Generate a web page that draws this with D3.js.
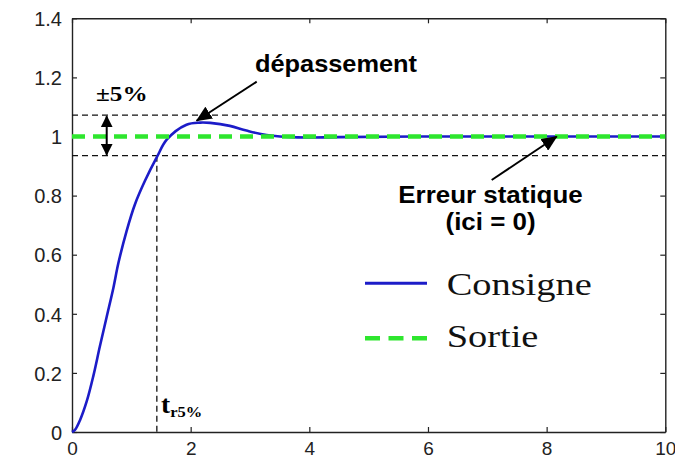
<!DOCTYPE html>
<html><head><meta charset="utf-8">
<script src="https://cdn.jsdelivr.net/npm/d3@7"></script>
<style>html,body{margin:0;padding:0;background:#fff;} svg{display:block;}</style>
</head><body>
<svg id="c" width="675" height="459"></svg>
<script>
// ---- data ----
const tConsigne = [0, 0.05, 0.135, 0.25, 0.36, 0.47, 0.585, 0.70, 0.78, 0.92, 1.06, 1.23, 1.43, 1.6, 1.93, 2.16, 2.33, 2.66, 2.94, 3.28, 3.8, 4.5, 6, 8, 10];
const consigne  = [0, 0.007, 0.04, 0.105, 0.19, 0.29, 0.39, 0.49, 0.57, 0.68, 0.77, 0.85, 0.93, 0.99, 1.04, 1.047, 1.046, 1.036, 1.02, 1.005, 0.997, 0.998, 1.0, 1.0, 1.0];
const tSortie = [0, 10];
const sortie  = [1, 1];
const bandUpper = 1.072, bandLower = 0.935, trTime = 1.43;
const xTicks = [0, 2, 4, 6, 8, 10];
const xTickLabels = ["0", "2", "4", "6", "8", "10"];
const yTicks = [0, 0.2, 0.4, 0.6, 0.8, 1, 1.2, 1.4];
const yTickLabels = ["0", "0.2", "0.4", "0.6", "0.8", "1", "1.2", "1.4"];
const legendLabels = ["Consigne", "Sortie"];

// ---- layout ----
const L = 72, R = 665.3, T = 18.3, B = 432;
const svg = d3.select("#c");
const x = d3.scaleLinear().domain([0, 10]).range([L, R]);
const y = d3.scaleLinear().domain([0, 1.4]).range([B, T]);
const axisColor = "#222";

// axes (MATLAB box with inner ticks on all sides)
const tickFont = "Liberation Sans, Arial, sans-serif";
const gx = svg.append("g").attr("transform", `translate(0,${B})`)
  .call(d3.axisBottom(x).tickValues(xTicks).tickFormat((d,i)=>xTickLabels[i]).tickSizeInner(-5).tickSizeOuter(0).tickPadding(12));
const gxt = svg.append("g").attr("transform", `translate(0,${T})`)
  .call(d3.axisTop(x).tickValues(xTicks).tickFormat("").tickSizeInner(-5).tickSizeOuter(0));
const gy = svg.append("g").attr("transform", `translate(${L},0)`)
  .call(d3.axisLeft(y).tickValues(yTicks).tickFormat((d,i)=>yTickLabels[i]).tickSizeInner(-5).tickSizeOuter(0).tickPadding(10));
const gyr = svg.append("g").attr("transform", `translate(${R},0)`)
  .call(d3.axisRight(y).tickValues(yTicks).tickFormat("").tickSizeInner(-5).tickSizeOuter(0));
[gx, gxt, gy, gyr].forEach(g => {
  g.select(".domain").attr("stroke", axisColor).attr("stroke-width", 1.4);
  g.selectAll(".tick line").attr("stroke", axisColor).attr("stroke-width", 1.2);
  g.selectAll(".tick text").attr("font-family", tickFont).attr("font-size", 20).attr("fill", "#222");
});
gx.selectAll(".tick text").attr("font-size", 19).attr("dy", null).attr("y", 22.5);
gy.selectAll(".tick text").attr("dy", "0.36em");

// black dashed helper lines
const dash = "6,4";
[bandUpper, bandLower].forEach(v => {
  svg.append("line").attr("x1", x(0)).attr("x2", x(10)).attr("y1", y(v)).attr("y2", y(v))
    .attr("stroke", "#111").attr("stroke-width", 1.3).attr("stroke-dasharray", dash);
});
svg.append("line").attr("x1", x(trTime)).attr("x2", x(trTime)).attr("y1", y(bandLower)).attr("y2", y(0))
  .attr("stroke", "#111").attr("stroke-width", 1.3).attr("stroke-dasharray", dash);

// curves
const blue = "#1c1cc8", green = "#2ee62e";
const line = d3.line().x(d => x(d[0])).y(d => y(d[1])).curve(d3.curveCatmullRom.alpha(0.5));
svg.append("path").datum(tConsigne.map((t,i)=>[t, consigne[i]]))
  .attr("d", line).attr("fill", "none").attr("stroke", blue).attr("stroke-width", 2.6);
svg.append("path").datum(tSortie.map((t,i)=>[t, sortie[i]]))
  .attr("d", d3.line().x(d=>x(d[0])).y(d=>y(d[1]))).attr("fill", "none")
  .attr("stroke", green).attr("stroke-width", 4.5).attr("stroke-dasharray", "13,8");

// arrow markers
const defs = svg.append("defs");
defs.append("marker").attr("id", "ah").attr("viewBox", "0 0 12 12").attr("refX", 11).attr("refY", 6)
  .attr("markerWidth", 12).attr("markerHeight", 12).attr("markerUnits", "userSpaceOnUse").attr("orient", "auto-start-reverse")
  .append("path").attr("d", "M0,0 L12,6 L0,12 Z").attr("fill", "#000");
defs.append("marker").attr("id", "ah2").attr("viewBox", "0 0 16 14").attr("refX", 15).attr("refY", 7)
  .attr("markerWidth", 16).attr("markerHeight", 14).attr("markerUnits", "userSpaceOnUse").attr("orient", "auto")
  .append("path").attr("d", "M0,0 L16,7 L0,14 Z").attr("fill", "#000");

// ±5% double arrow
svg.append("line").attr("x1", x(0.585)).attr("x2", x(0.585)).attr("y1", y(bandUpper)+1).attr("y2", y(bandLower)-1)
  .attr("stroke", "#000").attr("stroke-width", 2)
  .attr("marker-start", "url(#ah)").attr("marker-end", "url(#ah)");

// annotation arrows
svg.append("line").attr("x1", 256.7).attr("y1", 81.7).attr("x2", x(2.1)).attr("y2", y(1.05)-1)
  .attr("stroke", "#000").attr("stroke-width", 2).attr("marker-end", "url(#ah2)");
svg.append("line").attr("x1", 491.7).attr("y1", 180).attr("x2", x(8.17)).attr("y2", y(1.0))
  .attr("stroke", "#000").attr("stroke-width", 2).attr("marker-end", "url(#ah2)");

// text helper with horizontal stretch
function txt(s, px, py, size, family, weight, k, anchor) {
  const g = svg.append("g").attr("transform", `translate(${px},${py}) scale(${k},1)`);
  return g.append("text").text(s).attr("font-family", family).attr("font-size", size)
    .attr("font-weight", weight).attr("text-anchor", anchor || "start").attr("fill", "#000");
}
const serif = "Liberation Serif, Times New Roman, serif";
const sans = "Liberation Sans, Arial, sans-serif";

txt("±5%", 96, 101, 21, serif, "bold", 1.2);
txt("dépassement", 336, 72, 23.5, sans, "bold", 1.08, "middle");
txt("Erreur statique", 490.5, 202.5, 24, sans, "bold", 1.08, "middle");
txt("(ici = 0)", 490.5, 230, 24, sans, "bold", 1.08, "middle");

// t_r5%
const tr = txt("t", 161, 413, 25, serif, "bold", 1.1);
tr.append("tspan").text("r5%").attr("font-size", 15).attr("dy", 4);

// legend
svg.append("line").attr("x1", 365).attr("x2", 427).attr("y1", 283.3).attr("y2", 283.3)
  .attr("stroke", blue).attr("stroke-width", 3);
svg.append("line").attr("x1", 365).attr("x2", 427).attr("y1", 338.3).attr("y2", 338.3)
  .attr("stroke", green).attr("stroke-width", 4.5).attr("stroke-dasharray", "15,8.5");
txt(legendLabels[0], 446.7, 295, 32, serif, "normal", 1.2).attr("fill", "#111");
txt(legendLabels[1], 446.7, 346.7, 32, serif, "normal", 1.2).attr("fill", "#111");
</script>
</body></html>
